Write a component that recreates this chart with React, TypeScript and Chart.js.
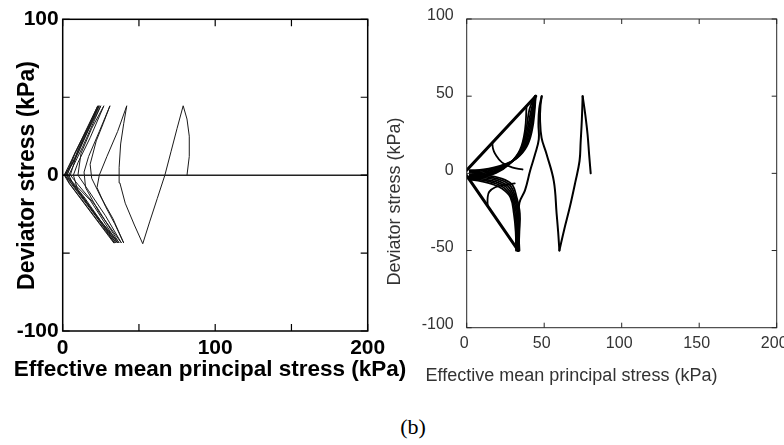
import React, { useEffect, useRef } from 'react';
import { Chart, registerables } from 'chart.js';

Chart.register(...registerables);

// ---------- shared axis values ----------
const P_MIN = 0;
const P_MAX = 200;
const Q_MIN = -100;
const Q_MAX = 100;
const TICK_STEP = 50;
const LEFT_LABEL_STEP = 100; // left panel labels only every 100
const X_TITLE = 'Effective mean principal stress (kPa)';
const Y_TITLE = 'Deviator stress (kPa)';
const PANEL_TAG = '(b)';

// ---------- left panel (measured) ----------
const LEFT_ZERO_P = [0, 200];
const LEFT_ZERO_Q = [0, 0];

const LEFT_PATH_P = [
  81.5, 83, 83, 81.5, 79,
  75, 71, 67, 62, 57, 52.5,
  47, 41, 37.5, 37, 38, 40, 42,
  36, 29, 24, 22.5, 28, 34, 40,
  33, 25, 19, 18, 22, 26.5, 31,
  24, 17, 14, 15, 24, 38.5,
  28, 17, 10, 12, 19, 27,
  18, 10, 7, 10, 22, 37,
  22, 10, 5, 10, 25,
  13, 6, 4, 8, 36,
  18, 6, 3, 8, 24,
  10, 4, 2.5, 6, 35,
  14, 4, 2, 7, 23.5,
  8, 2, 1.5, 5, 34,
  12, 2, 1, 6, 23,
  6, 1, 4, 33.5,
];
const LEFT_PATH_Q = [
  0, 12, 25, 36, 44.5,
  30, 15, 0, -15, -30, -44,
  -32, -18, -5, 5, 20, 33, 44.5,
  28, 12, 0, -8, -20, -31, -43.5,
  -28, -14, -2, 7, 22, 33, 44.5,
  28, 12, 2, -8, -24, -43.5,
  -26, -10, 0, 14, 30, 44.5,
  24, 8, 0, -10, -26, -43.5,
  -20, -6, 0, 16, 44.5,
  18, 4, 0, -8, -43.5,
  -16, -4, 0, 14, 44.5,
  14, 3, 0, -6, -43.5,
  -14, -2, 0, 12, 44.5,
  10, 1, 0, -6, -43.5,
  -12, -1, 0, 10, 44.5,
  7, 0, -5, -43.5,
];

// ---------- right panel (simulated) ----------
const RIGHT_FAIL_UPPER_P = [0, 44.5];
const RIGHT_FAIL_UPPER_Q = [2, 50];
const RIGHT_FAIL_LOWER_P = [0, 33.3];
const RIGHT_FAIL_LOWER_Q = [-1.5, -50];

const RIGHT_OUTER_P = [
  [80, 79, 78, 76.5, 74.8],
  [74.8, 74.3, 73.5, 72.8, 70, 66.5, 63, 59.8],
  [59.8, 59, 58, 56.2, 51.5, 48.3, 47.3, 47.6, 48.4],
  [48.4, 46.8, 46.3, 46.5, 44, 41, 37.6, 34, 33.3, 33.5, 34],
];
const RIGHT_OUTER_Q = [
  [0, 12, 25, 38, 50],
  [50, 35, 20, 8, -6, -22, -36, -50],
  [-50, -38, -26, -5, 12.5, 23, 35, 44, 50],
  [50, 42, 32, 22, 12, 2, -11, -19, -30, -40, -50],
];

const RIGHT_UPPER_P = [
  [44.5, 43.8, 42.2, 38.8, 32.5, 22, 11, 2],
  [44.5, 43.3, 41.5, 38, 31.5, 21.5, 11, 2],
  [44.3, 42.8, 40.7, 37.2, 30.6, 21, 11, 2],
  [44.3, 42.2, 39.9, 36.4, 29.7, 20.5, 10.5, 2],
  [44, 41.5, 39.1, 35.6, 28.8, 20, 10, 2],
  [44, 40.5, 38.3, 34.9, 28, 19.5, 9, 2],
  [38.6, 37.6, 34.3, 27.5, 19, 8, 1],
];
const RIGHT_UPPER_Q = [
  [50, 40, 28, 17.5, 10, 5, 2.5, 2],
  [50, 40, 28, 17, 9.3, 4.2, 1.8, 1.2],
  [50, 40, 28, 16.6, 8.6, 3.4, 1, 0.5],
  [50, 40, 28, 16.2, 7.9, 2.6, 0, -0.5],
  [50, 40.5, 28, 15.8, 7.2, 1.8, -1, -1.5],
  [50, 41.5, 28, 15.4, 6.6, 1, -2, -2.5],
  [43.7, 28, 15, 6, 0.2, -3, -3.5],
];

const RIGHT_LOWER_P = [
  [33.5, 34, 34.3, 32.2, 29, 21.5, 12, 2],
  [33.2, 33.6, 33.5, 31.4, 27.8, 20.5, 11.5, 2],
  [33, 33.2, 32.8, 30.6, 26.6, 19.5, 11, 2],
  [32.7, 32.7, 32, 29.8, 25.4, 18.5, 10.5, 2],
  [32.3, 32.2, 31.2, 29, 24.2, 17.5, 10, 2],
  [31.8, 31.6, 30.4, 28.2, 23, 16.5, 9.5, 2],
];
const RIGHT_LOWER_Q = [
  [-50, -38, -26, -15.5, -7, -3, -1.2, -0.5],
  [-50, -38, -26, -15.5, -7.6, -3.8, -2, -1.2],
  [-50, -38, -26, -15.5, -8.2, -4.6, -2.8, -2],
  [-50, -38, -26, -15.5, -8.8, -5.4, -3.6, -2.8],
  [-50, -38, -26, -15.5, -9.4, -6.2, -4.4, -3.5],
  [-50, -38, -26, -15.5, -10, -7, -5.2, -4],
];

const RIGHT_BRANCH_P = [
  [16.5, 17, 18.4, 22.7, 29.2, 36],
  [13.5, 13.5, 14.5, 18.4, 24.9, 31],
];
const RIGHT_BRANCH_Q = [
  [19.8, 16, 12.5, 7.1, 3.9, 2.5],
  [-21, -16, -12, -9, -7.5, -6.5],
];

// ---------- helpers ----------
const toPoints = (p: number[], q: number[]) => p.map((x, i) => ({ x, y: q[i] }));

const SANS = '"Liberation Sans", Arial, Helvetica, sans-serif';

type TitleItem = { text: string; x: number; y: number; font: string; color: string; rotate?: boolean };

function makeTitlesPlugin(items: TitleItem[]) {
  return {
    id: 'axisTitles',
    afterDraw(chart: any) {
      const ctx = chart.ctx;
      items.forEach((it) => {
        ctx.save();
        ctx.font = it.font;
        ctx.fillStyle = it.color;
        ctx.textAlign = 'center';
        ctx.textBaseline = 'middle';
        ctx.translate(it.x, it.y);
        if (it.rotate) ctx.rotate(-Math.PI / 2);
        ctx.fillText(it.text, 0, 0);
        ctx.restore();
      });
    },
  };
}

function makeFramePlugin(color: string, width: number, tickLen: number, tickWidth: number) {
  return {
    id: 'frameTicks',
    afterDatasetsDraw(chart: any) {
      const { ctx, chartArea: a, scales } = chart;
      ctx.save();
      ctx.strokeStyle = color;
      ctx.lineWidth = width;
      ctx.strokeRect(a.left, a.top, a.right - a.left, a.bottom - a.top);
      ctx.lineWidth = tickWidth;
      ctx.beginPath();
      scales.x.ticks.forEach((t: any) => {
        const px = scales.x.getPixelForValue(t.value);
        ctx.moveTo(px, a.bottom);
        ctx.lineTo(px, a.bottom - tickLen);
        ctx.moveTo(px, a.top);
        ctx.lineTo(px, a.top + tickLen);
      });
      scales.y.ticks.forEach((t: any) => {
        const py = scales.y.getPixelForValue(t.value);
        ctx.moveTo(a.left, py);
        ctx.lineTo(a.left + tickLen, py);
        ctx.moveTo(a.right, py);
        ctx.lineTo(a.right - tickLen, py);
      });
      ctx.stroke();
      ctx.restore();
    },
  };
}

function fixedSize(size: number) {
  return (scale: any) => {
    if (scale.isHorizontal()) scale.height = size;
    else scale.width = size;
    scale.paddingLeft = 0;
    scale.paddingRight = 0;
    scale.paddingTop = 0;
    scale.paddingBottom = 0;
  };
}

function lineDs(p: number[], q: number[], color: string, width: number, tension: number) {
  return {
    data: toPoints(p, q),
    borderColor: color,
    borderWidth: width,
    pointRadius: 0,
    pointHoverRadius: 0,
    fill: false,
    tension,
    borderCapStyle: 'round' as const,
    borderJoinStyle: 'round' as const,
  };
}

export default function App() {
  const leftRef = useRef<HTMLCanvasElement>(null);
  const rightRef = useRef<HTMLCanvasElement>(null);

  useEffect(() => {
    const leftTickFont = { family: SANS, size: 21, weight: 'bold' as const };
    const left = new Chart(leftRef.current!, {
      type: 'line',
      data: {
        datasets: [
          lineDs(LEFT_ZERO_P, LEFT_ZERO_Q, '#222', 1.5, 0),
          lineDs(LEFT_PATH_P, LEFT_PATH_Q, '#1a1a1a', 1, 0),
        ],
      },
      options: {
        responsive: false,
        animation: false,
        events: [],
        layout: { padding: { left: 0, top: 19.3, right: 52.3, bottom: 0 } },
        plugins: { legend: { display: false }, tooltip: { enabled: false } },
        scales: {
          x: {
            type: 'linear',
            min: P_MIN,
            max: P_MAX,
            grid: { display: false, drawTicks: false },
            border: { display: false },
            ticks: {
              stepSize: TICK_STEP,
              color: '#000',
              font: leftTickFont,
              padding: 5,
              maxRotation: 0,
              callback: (v: any) => (Number(v) % LEFT_LABEL_STEP === 0 ? String(v) : ''),
            },
            afterFit: fixedSize(69),
          },
          y: {
            type: 'linear',
            min: Q_MIN,
            max: Q_MAX,
            grid: { display: false, drawTicks: false },
            border: { display: false },
            ticks: {
              stepSize: TICK_STEP,
              color: '#000',
              font: leftTickFont,
              padding: 4,
              callback: (v: any) => (Number(v) % LEFT_LABEL_STEP === 0 ? String(v) : ''),
            },
            afterFit: fixedSize(62.7),
          },
        },
      },
      plugins: [
        makeFramePlugin('#000', 1.5, 7, 1.2),
        makeTitlesPlugin([
          { text: X_TITLE, x: 210, y: 370, font: `bold 22.5px ${SANS}`, color: '#000' },
          { text: Y_TITLE, x: 27.5, y: 175.5, font: `bold 23px ${SANS}`, color: '#000', rotate: true },
        ]),
      ],
    } as any);

    const rightDatasets: any[] = [];
    RIGHT_UPPER_P.forEach((p, i) => rightDatasets.push(lineDs(p, RIGHT_UPPER_Q[i], '#000', 1.8, 0.4)));
    RIGHT_LOWER_P.forEach((p, i) => rightDatasets.push(lineDs(p, RIGHT_LOWER_Q[i], '#000', 1.8, 0.4)));
    RIGHT_BRANCH_P.forEach((p, i) => rightDatasets.push(lineDs(p, RIGHT_BRANCH_Q[i], '#000', 1.8, 0.4)));
    RIGHT_OUTER_P.forEach((p, i) => rightDatasets.push(lineDs(p, RIGHT_OUTER_Q[i], '#000', 2, 0.4)));
    rightDatasets.push(lineDs(RIGHT_FAIL_UPPER_P, RIGHT_FAIL_UPPER_Q, '#000', 3, 0));
    rightDatasets.push(lineDs(RIGHT_FAIL_LOWER_P, RIGHT_FAIL_LOWER_Q, '#000', 3, 0));

    const rightTickFont = { family: SANS, size: 16 };
    const right = new Chart(rightRef.current!, {
      type: 'line',
      data: { datasets: rightDatasets },
      options: {
        responsive: false,
        animation: false,
        events: [],
        layout: { padding: { left: 0, top: 19, right: 7.3, bottom: 0 } },
        plugins: { legend: { display: false }, tooltip: { enabled: false } },
        scales: {
          x: {
            type: 'linear',
            min: P_MIN,
            max: P_MAX,
            grid: { display: false, drawTicks: false },
            border: { display: false },
            ticks: {
              stepSize: TICK_STEP,
              color: '#333',
              font: rightTickFont,
              padding: 6,
              maxRotation: 0,
              labelOffset: -2.5,
            },
            afterFit: fixedSize(72.3),
          },
          y: {
            type: 'linear',
            min: Q_MIN,
            max: Q_MAX,
            grid: { display: false, drawTicks: false },
            border: { display: false },
            ticks: { stepSize: TICK_STEP, color: '#333', font: rightTickFont, padding: 13, labelOffset: -3 },
            afterFit: fixedSize(86.7),
          },
        },
      },
      plugins: [
        makeFramePlugin('#262626', 1, 5, 1),
        makeTitlesPlugin([
          { text: X_TITLE, x: 191.5, y: 376, font: `18px ${SANS}`, color: '#333' },
          { text: Y_TITLE, x: 15, y: 201.5, font: `18px ${SANS}`, color: '#333', rotate: true },
        ]),
      ],
    } as any);

    return () => {
      left.destroy();
      right.destroy();
    };
  }, []);

  return (
    <div
      style={{
        position: 'fixed',
        left: 0,
        top: 0,
        width: 784,
        height: 445,
        background: '#fff',
        overflow: 'hidden',
      }}
    >
      <canvas
        ref={leftRef}
        width={420}
        height={400}
        style={{ position: 'absolute', left: 0, top: 0, width: 420, height: 400 }}
      />
      <canvas
        ref={rightRef}
        width={404}
        height={400}
        style={{ position: 'absolute', left: 380, top: 0, width: 404, height: 400 }}
      />
      <div
        style={{
          position: 'absolute',
          left: 363,
          width: 100,
          top: 414,
          textAlign: 'center',
          fontFamily: '"Liberation Serif", "Times New Roman", serif',
          fontSize: 22,
          lineHeight: '26px',
          color: '#000',
        }}
      >
        {PANEL_TAG}
      </div>
    </div>
  );
}
